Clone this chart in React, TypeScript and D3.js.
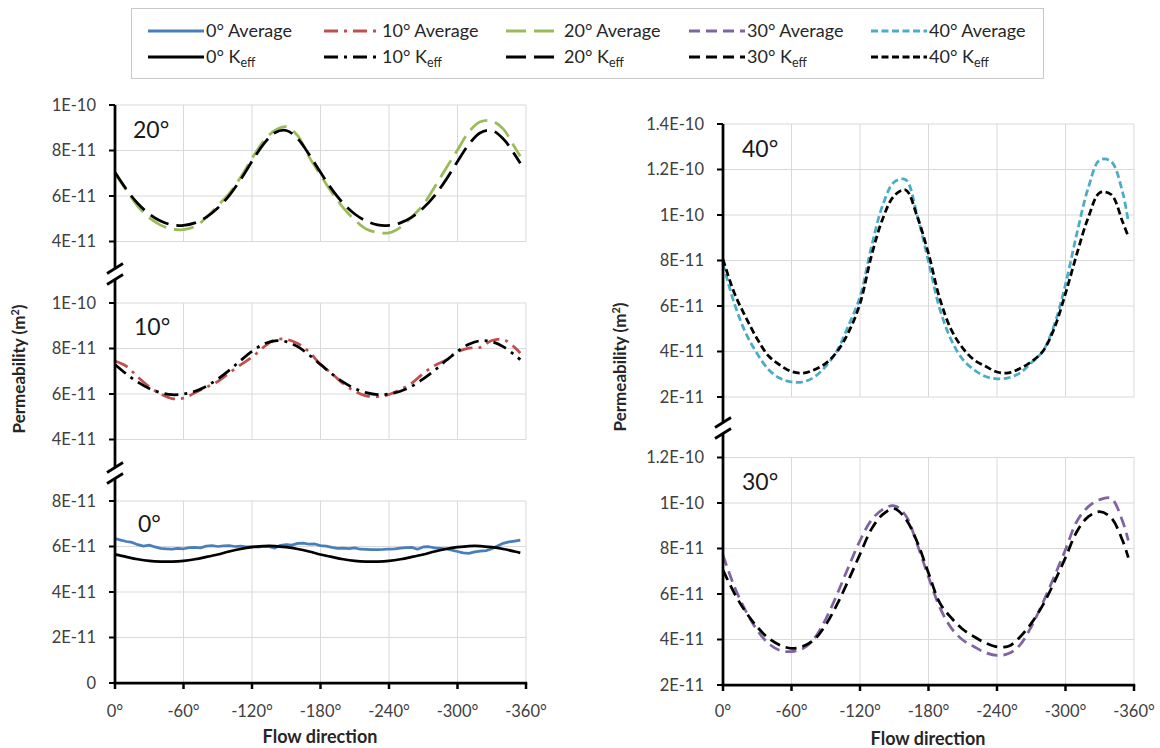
import React from "react";
import * as d3 from "d3";

// Flow direction (degrees) sampled for the smooth series
const ANGLES = [0, -10, -20, -30, -40, -50, -60, -70, -80, -90, -100, -110, -120, -130, -140, -150, -160, -170, -180, -190, -200, -210, -220, -230, -240, -250, -260, -270, -280, -290, -300, -310, -320, -330, -340, -350, -355];
// Finer sampling for the noisy 0° average
const ANGLES_FINE = [0, -5, -10, -15, -20, -25, -30, -35, -40, -45, -50, -55, -60, -65, -70, -75, -80, -85, -90, -95, -100, -105, -110, -115, -120, -125, -130, -135, -140, -145, -150, -155, -160, -165, -170, -175, -180, -185, -190, -195, -200, -205, -210, -215, -220, -225, -230, -235, -240, -245, -250, -255, -260, -265, -270, -275, -280, -285, -290, -295, -300, -305, -310, -315, -320, -325, -330, -335, -340, -345, -350, -355];

// Permeability values in units of 1E-11 m²
const AVG_0 = [6.35, 6.28, 6.22, 6.18, 6.08, 6.02, 6.06, 5.98, 5.92, 5.9, 5.88, 5.92, 5.9, 5.95, 5.96, 5.94, 6.02, 6.04, 6.0, 6.03, 6.04, 6.0, 6.02, 5.98, 6.0, 5.97, 6.0, 5.99, 5.93, 6.05, 6.08, 6.06, 6.14, 6.15, 6.1, 6.11, 6.04, 6.02, 5.96, 5.92, 5.93, 5.91, 5.94, 5.88, 5.87, 5.86, 5.86, 5.87, 5.89, 5.9, 5.93, 5.95, 5.96, 5.88, 5.98, 5.99, 5.94, 5.92, 5.9, 5.84, 5.78, 5.72, 5.7, 5.76, 5.8, 5.82, 5.9, 6.02, 6.14, 6.2, 6.24, 6.28];
const KEFF_0 = [5.65, 5.54, 5.44, 5.37, 5.34, 5.34, 5.37, 5.44, 5.54, 5.65, 5.78, 5.89, 5.97, 6.02, 6.02, 5.97, 5.89, 5.78, 5.65, 5.54, 5.44, 5.37, 5.34, 5.34, 5.37, 5.44, 5.54, 5.65, 5.78, 5.89, 5.97, 6.02, 6.02, 5.97, 5.89, 5.78, 5.72];
const AVG_10 = [7.45, 7.22, 6.75, 6.32, 6.0, 5.8, 5.82, 6.05, 6.3, 6.55, 6.92, 7.28, 7.62, 8.05, 8.38, 8.4, 8.22, 7.85, 7.3, 6.9, 6.45, 6.12, 5.92, 5.88, 5.98, 6.2, 6.48, 6.9, 7.25, 7.5, 7.85, 8.02, 8.05, 8.35, 8.4, 8.05, 7.8];
const KEFF_10 = [7.3, 6.88, 6.52, 6.24, 6.06, 5.97, 6.0, 6.12, 6.34, 6.66, 7.04, 7.47, 7.87, 8.19, 8.34, 8.3, 8.08, 7.72, 7.3, 6.88, 6.52, 6.24, 6.06, 5.97, 6.0, 6.12, 6.34, 6.66, 7.04, 7.47, 7.87, 8.19, 8.34, 8.3, 8.08, 7.72, 7.51];
const AVG_20 = [7.0, 6.25, 5.55, 5.05, 4.72, 4.55, 4.52, 4.66, 5.05, 5.58, 6.1, 6.82, 7.65, 8.4, 8.88, 9.05, 8.65, 7.72, 6.92, 6.15, 5.48, 4.95, 4.55, 4.4, 4.38, 4.62, 5.08, 5.62, 6.4, 7.22, 8.02, 8.82, 9.26, 9.3, 8.95, 8.15, 7.75];
const KEFF_20 = [7.04, 6.29, 5.67, 5.21, 4.9, 4.73, 4.71, 4.82, 5.07, 5.47, 6.02, 6.72, 7.52, 8.27, 8.78, 8.88, 8.52, 7.83, 7.04, 6.29, 5.67, 5.21, 4.9, 4.73, 4.71, 4.82, 5.07, 5.47, 6.02, 6.72, 7.52, 8.27, 8.78, 8.88, 8.52, 7.83, 7.44];
const AVG_30 = [7.7, 6.32, 5.25, 4.4, 3.82, 3.52, 3.47, 3.6, 4.05, 4.9, 6.0, 7.2, 8.35, 9.25, 9.72, 9.88, 9.45, 8.2, 6.75, 5.4, 4.5, 3.98, 3.68, 3.42, 3.3, 3.38, 3.75, 4.56, 5.6, 6.75, 7.95, 9.2, 9.84, 10.15, 10.2, 9.2, 8.35];
const KEFF_30 = [7.05, 6.03, 5.2, 4.55, 4.05, 3.75, 3.61, 3.7, 4.0, 4.65, 5.55, 6.62, 7.75, 8.85, 9.5, 9.75, 9.3, 8.3, 6.92, 5.6, 4.95, 4.45, 4.12, 3.85, 3.68, 3.7, 4.1, 4.71, 5.5, 6.5, 7.6, 8.75, 9.4, 9.62, 9.35, 8.35, 7.6];
const AVG_40 = [7.85, 6.1, 4.8, 3.9, 3.2, 2.82, 2.66, 2.66, 2.88, 3.35, 4.05, 5.15, 6.4, 8.6, 10.45, 11.45, 11.55, 10.0, 7.95, 5.85, 4.5, 3.65, 3.19, 2.9, 2.8, 2.84, 3.05, 3.5, 4.0, 5.15, 6.95, 9.2, 11.2, 12.42, 12.35, 11.0, 9.7];
const KEFF_40 = [8.05, 6.56, 5.5, 4.55, 3.8, 3.4, 3.12, 3.05, 3.2, 3.48, 4.0, 4.85, 6.1, 8.2, 9.85, 10.85, 11.1, 9.95, 8.3, 6.3, 4.95, 4.15, 3.63, 3.35, 3.1, 3.06, 3.25, 3.55, 4.0, 5.0, 6.55, 8.3, 9.9, 10.98, 10.9, 9.7, 9.05];

const X_TICKS = [0, -60, -120, -180, -240, -300, -360];
const TICKS_20 = [4, 6, 8, 10];
const TICKS_10 = [4, 6, 8, 10];
const TICKS_0 = [0, 2, 4, 6, 8];
const TICKS_40 = [2, 4, 6, 8, 10, 12, 14];
const TICKS_30 = [2, 4, 6, 8, 10, 12];

const SERIES_NAMES = ["0°", "10°", "20°", "30°", "40°"];
const AVG_COLORS = ["#4a7ebb", "#c0504d", "#9bbb59", "#8064a2", "#4bacc6"];
const KEFF_COLOR = "#000000";
const DASHES = ["", "14,6,3,6", "20,8", "11,6", "7,3.5"];

const GRID = "#d9d9d9";
const TICK_TEXT = "#404040";
const FONT = "Lato, 'Open Sans', 'DejaVu Sans', sans-serif";

function fmtTick(v: number): string {
  if (v === 0) return "0";
  if (v >= 10) return `${+(v / 10).toFixed(1)}E-10`;
  return `${v}E-11`;
}

type PanelSpec = {
  x: d3.ScaleLinear<number, number>;
  y: d3.ScaleLinear<number, number>;
  ticks: number[];
  idx: number;
  avg: number[];
  keff: number[];
  angAvg: number[];
  angKeff: number[];
  axis: boolean;
  label: [number, number];
  title?: [number, number];
};

function Panel({ p }: { p: PanelSpec }) {
  const [x0, x1] = p.x.range();
  const [yb, yt] = p.y.range();
  const mk = (angles: number[], values: number[], curve: d3.CurveFactory) =>
    d3
      .line<number>()
      .x((_, i) => p.x(angles[i]))
      .y((v) => p.y(v))
      .curve(curve)(values) || "";
  const avgCurve = p.idx === 0 ? d3.curveLinear : d3.curveCatmullRom.alpha(0.5);
  return (
    <g>
      {X_TICKS.slice(1).map((t) => (
        <line key={"gv" + t} x1={p.x(t)} x2={p.x(t)} y1={yb} y2={yt} stroke={GRID} strokeWidth={1} />
      ))}
      {p.ticks
        .filter((t) => !(p.axis && t === p.ticks[0]))
        .map((t) => (
          <line key={"gh" + t} x1={x0} x2={x1} y1={p.y(t)} y2={p.y(t)} stroke={GRID} strokeWidth={1} />
        ))}
      <path
        d={mk(p.angAvg, p.avg, avgCurve)}
        fill="none"
        stroke={AVG_COLORS[p.idx]}
        strokeWidth={2.75}
        strokeDasharray={DASHES[p.idx] || undefined}
        strokeLinejoin="round"
      />
      <path
        d={mk(p.angKeff, p.keff, d3.curveCatmullRom.alpha(0.5))}
        fill="none"
        stroke={KEFF_COLOR}
        strokeWidth={2.75}
        strokeDasharray={DASHES[p.idx] || undefined}
        strokeLinejoin="round"
      />
      {p.ticks.map((t) => (
        <g key={"yt" + t}>
          <line x1={x0 - 6} x2={x0} y1={p.y(t)} y2={p.y(t)} stroke="#000" strokeWidth={2} />
          <text x={x0 - 19} y={p.y(t)} dy="0.36em" textAnchor="end" fontSize={16.5} fill={TICK_TEXT}>
            {fmtTick(t)}
          </text>
        </g>
      ))}
      {p.axis && (
        <g>
          <line x1={x0 - 1.4} x2={x1 + 1.2} y1={yb} y2={yb} stroke="#000" strokeWidth={2.75} />
          {X_TICKS.map((t) => (
            <g key={"xt" + t}>
              <line x1={p.x(t)} x2={p.x(t)} y1={yb} y2={yb + 6} stroke="#000" strokeWidth={2.5} />
              <text x={p.x(t)} y={717} textAnchor="middle" fontSize={16.5} fill={TICK_TEXT}>
                {`${t}°`}
              </text>
            </g>
          ))}
        </g>
      )}
      {p.title && (
        <text x={p.title[0]} y={p.title[1]} textAnchor="middle" fontSize={18} fontWeight="bold" fill="#262626">
          Flow direction
        </text>
      )}
      <text x={p.label[0]} y={p.label[1]} fontSize={23} fill="#1a1a1a">
        {SERIES_NAMES[p.idx]}
      </text>
    </g>
  );
}

function BrokenAxis({ x, top, bottom, breaks }: { x: number; top: number; bottom: number; breaks: number[] }) {
  const segs: [number, number][] = [];
  let start = top;
  breaks.forEach((b) => {
    segs.push([start, b - 5.5]);
    start = b + 5.5;
  });
  segs.push([start, bottom]);
  return (
    <g>
      {segs.map(([a, b], i) => (
        <line key={"s" + i} x1={x} x2={x} y1={a} y2={b} stroke="#000" strokeWidth={2.75} />
      ))}
      {breaks.map((b) => (
        <g key={"b" + b}>
          <line x1={x - 8} x2={x + 8} y1={b - 5.5 + 5} y2={b - 5.5 - 5} stroke="#000" strokeWidth={2.75} />
          <line x1={x - 8} x2={x + 8} y1={b + 5.5 + 5} y2={b + 5.5 - 5} stroke="#000" strokeWidth={2.75} />
        </g>
      ))}
    </g>
  );
}

export default function App() {
  const xL = d3.scaleLinear().domain([0, -360]).range([115, 526]);
  const xR = d3.scaleLinear().domain([0, -360]).range([723, 1134]);

  const panels: PanelSpec[] = [
    { x: xL, y: d3.scaleLinear().domain([4, 10]).range([241.5, 105]), ticks: TICKS_20, idx: 2, avg: AVG_20, keff: KEFF_20, angAvg: ANGLES, angKeff: ANGLES, axis: false, label: [133, 138] },
    { x: xL, y: d3.scaleLinear().domain([4, 10]).range([439.5, 303]), ticks: TICKS_10, idx: 1, avg: AVG_10, keff: KEFF_10, angAvg: ANGLES, angKeff: ANGLES, axis: false, label: [134, 335] },
    { x: xL, y: d3.scaleLinear().domain([0, 8]).range([683, 501]), ticks: TICKS_0, idx: 0, avg: AVG_0, keff: KEFF_0, angAvg: ANGLES_FINE, angKeff: ANGLES, axis: true, label: [138, 532], title: [320, 743] },
    { x: xR, y: d3.scaleLinear().domain([2, 14]).range([397, 124]), ticks: TICKS_40, idx: 4, avg: AVG_40, keff: KEFF_40, angAvg: ANGLES, angKeff: ANGLES, axis: false, label: [742, 157] },
    { x: xR, y: d3.scaleLinear().domain([2, 12]).range([685, 457.5]), ticks: TICKS_30, idx: 3, avg: AVG_30, keff: KEFF_30, angAvg: ANGLES, angKeff: ANGLES, axis: true, label: [742, 490], title: [928, 745] },
  ];

  const legendLineX = [148, 324, 506, 689, 871];
  const legendRows = [31, 57];

  return (
    <div style={{ position: "absolute", left: 0, top: 0 }}>
      <svg width={1160} height={748} style={{ display: "block", background: "#ffffff" }} fontFamily={FONT}>
        <rect x={0} y={0} width={1160} height={748} fill="#ffffff" />
        {/* Legend */}
        <rect x={131.5} y={8.5} width={912} height={70} fill="#ffffff" stroke="#c8c8c8" strokeWidth={1} />
        {SERIES_NAMES.map((name, i) => (
          <g key={"lg" + i}>
            <line x1={legendLineX[i]} x2={legendLineX[i] + 56} y1={legendRows[0]} y2={legendRows[0]} stroke={AVG_COLORS[i]} strokeWidth={3} strokeDasharray={DASHES[i] || undefined} />
            <text x={legendLineX[i] + 58} y={legendRows[0] + 6} fontSize={18} fill="#262626">
              {`${name} Average`}
            </text>
            <line x1={legendLineX[i]} x2={legendLineX[i] + 56} y1={legendRows[1]} y2={legendRows[1]} stroke={KEFF_COLOR} strokeWidth={3} strokeDasharray={DASHES[i] || undefined} />
            <text x={legendLineX[i] + 58} y={legendRows[1] + 6} fontSize={18} fill="#262626">
              {`${name} K`}
              <tspan fontSize={12.5} dy={4}>eff</tspan>
            </text>
          </g>
        ))}

        {panels.map((p, i) => (
          <Panel key={"p" + i} p={p} />
        ))}

        <BrokenAxis x={115} top={105} bottom={683} breaks={[274, 473]} />
        <BrokenAxis x={723} top={124} bottom={685} breaks={[428]} />

        <text transform="translate(25,369) rotate(-90)" textAnchor="middle" fontSize={17} fontWeight="bold" fill="#262626">
          Permeability (m<tspan fontSize={11} dy={-6}>2</tspan><tspan dy={6}>)</tspan>
        </text>
        <text transform="translate(626,367) rotate(-90)" textAnchor="middle" fontSize={17} fontWeight="bold" fill="#262626">
          Permeability (m<tspan fontSize={11} dy={-6}>2</tspan><tspan dy={6}>)</tspan>
        </text>
      </svg>
    </div>
  );
}
